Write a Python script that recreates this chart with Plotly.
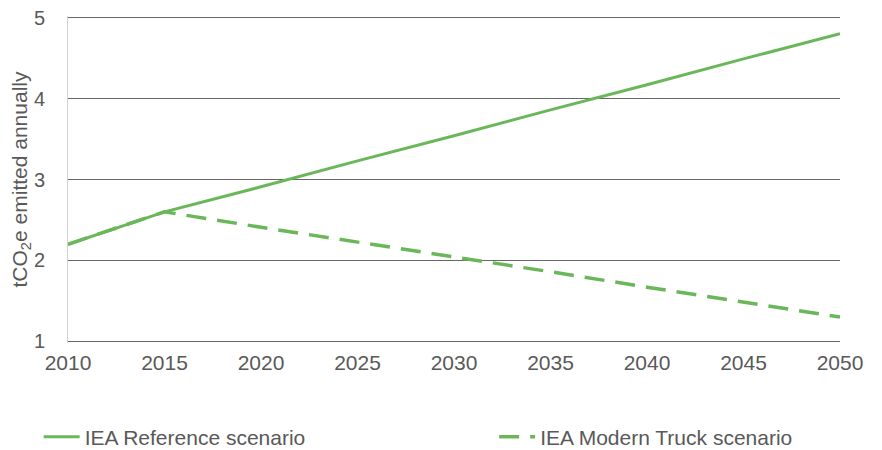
import plotly.graph_objects as go

years = [2010, 2015, 2020, 2025, 2030, 2035, 2040, 2045, 2050]
reference = [2.2, 2.6, 2.91, 3.23, 3.54, 3.86, 4.17, 4.49, 4.8]
modern_truck = [2.2, 2.6, 2.41, 2.23, 2.04, 1.86, 1.67, 1.49, 1.3]
y_ticks = [1, 2, 3, 4, 5]

green = "#6ab759"
text_col = "#595959"

fig = go.Figure()
fig.add_trace(go.Scatter(x=years, y=reference, mode="lines", name="IEA Reference scenario",
                         line=dict(color=green, width=3), legend="legend"))
fig.add_trace(go.Scatter(x=years, y=modern_truck, mode="lines", name="IEA Modern Truck scenario",
                         line=dict(color=green, width=3.5, dash="20px,11px"), legend="legend2"))

leg_common = dict(orientation="h", yanchor="middle", y=-0.288, xanchor="left",
                  font=dict(size=21, color=text_col), itemwidth=36, bgcolor="rgba(0,0,0,0)")

fig.update_layout(
    width=874, height=442,
    margin=dict(l=60, r=42, t=8, b=107, autoexpand=False),
    plot_bgcolor="white", paper_bgcolor="white",
    font=dict(family="Liberation Sans, Arial, sans-serif", color=text_col, size=20),
    xaxis=dict(range=[2010, 2050], tickvals=years, showgrid=False, zeroline=False,
               showline=False, ticks="", tickfont=dict(size=21), ticklabelstandoff=5,
               automargin=False),
    yaxis=dict(range=[0.98, 5.02], tickvals=y_ticks, showgrid=True, gridcolor="#666666",
               gridwidth=1, zeroline=False, showline=True, linecolor="#d0d0d0", linewidth=1,
               ticks="", ticklabelstandoff=18, tickfont=dict(size=20), automargin=False,
               ticklabeloverflow="allow",
               title=dict(text="tCO<sub>2</sub>e emitted annually", font=dict(size=21), standoff=6)),
    legend=dict(x=-0.038, **leg_common),
    legend2=dict(x=0.552, **leg_common),
    showlegend=True,
)

fig.write_html("out.html")
